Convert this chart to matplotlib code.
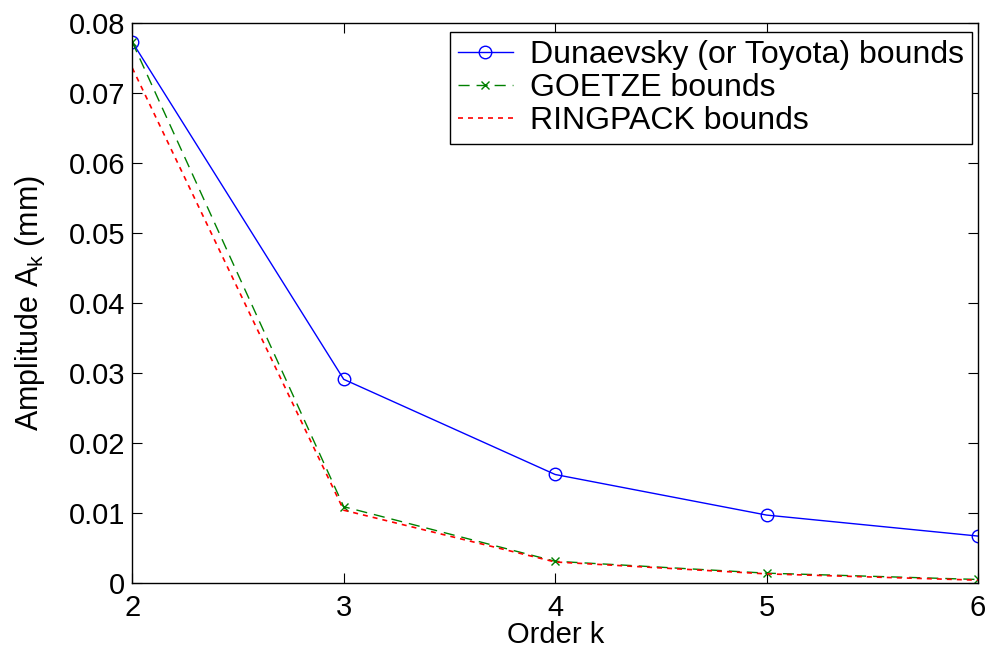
import matplotlib
matplotlib.use('Agg')
import matplotlib.pyplot as plt

k = [2, 3, 4, 5, 6]
dunaevsky = [0.0773, 0.0291, 0.0155, 0.0097, 0.0067]
goetze = [0.0773, 0.0109, 0.0031, 0.0014, 0.0005]
ringpack = [0.0736, 0.0104, 0.0030, 0.0013, 0.0004]

plt.rcParams['font.family'] = ['Liberation Sans', 'DejaVu Sans']

fig = plt.figure(figsize=(9.87, 6.51), dpi=100)
ax = fig.add_axes([0.134, 0.1045, 0.857, 0.86])

ax.plot(k, dunaevsky, '-o', color='blue', lw=1, ms=9, mfc='none', mew=1,
        label='Dunaevsky (or Toyota) bounds')
ax.plot(k, goetze, '--x', color='green', lw=1, ms=6, mew=1, dashes=(8, 5),
        label='GOETZE bounds')
ax.plot(k, ringpack, ':', color='red', lw=1.2, dashes=(3, 3),
        label='RINGPACK bounds')

ax.set_xlim(2, 6)
ax.set_ylim(0, 0.08)
ax.set_xticks(k)
ax.set_yticks([0, 0.01, 0.02, 0.03, 0.04, 0.05, 0.06, 0.07, 0.08])
ax.set_yticklabels(['0', '0.01', '0.02', '0.03', '0.04', '0.05', '0.06', '0.07', '0.08'])
ax.tick_params(direction='in', labelsize=21, length=7, top=True, right=True, pad=5)
ax.tick_params(axis='x', pad=8)
ax.set_xlabel('Order k', fontsize=21, labelpad=-1)
ax.set_ylabel('Amplitude A$_\\mathregular{k}$ (mm)', fontsize=22, labelpad=16)
for s in ax.spines.values():
    s.set_linewidth(1)

leg = ax.legend(loc='upper right', fontsize=23, fancybox=False, edgecolor='black',
                framealpha=1, handlelength=1.7, handletextpad=0.55, borderpad=0.25,
                labelspacing=0.1, borderaxespad=0, bbox_to_anchor=(0.993, 0.984))
leg.get_frame().set_linewidth(1)

fig.savefig('out.png', dpi=100)
